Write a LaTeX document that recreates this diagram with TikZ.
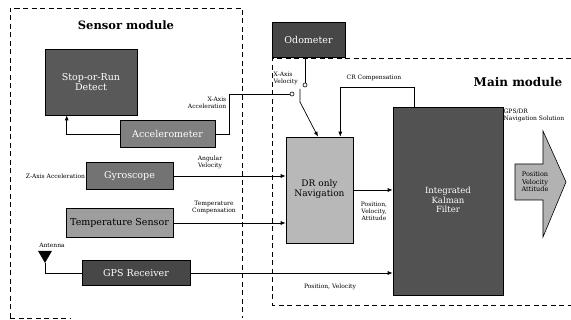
\documentclass[tikz,border=0pt]{standalone}
\usepackage{fontspec}
\setmainfont{DejaVu Serif}
\usetikzlibrary{arrows.meta,shapes.geometric}
\begin{document}
\begin{tikzpicture}[x=1pt,y=-1pt,
  blk/.style={draw=black,line width=0.6pt,minimum width=#1,inner sep=1pt,align=center,font=\fontsize{9.5}{10.5}\selectfont},
  lbl/.style={font=\fontsize{6}{7}\selectfont,inner sep=0.5pt,align=center},
  modbox/.style={dashed,line width=0.9pt,dash pattern=on 5pt off 3.5pt},
  conn/.style={line width=0.7pt},
  arr/.style={line width=0.7pt,-{Latex[length=5pt,width=4pt]}},
  term/.style={circle,draw,fill=white,inner sep=0pt,minimum size=4pt,line width=0.6pt}]
\useasboundingbox (0,0) rectangle (571,320);
% module frames
\draw[modbox] (10,318) -- (10,8) -- (242,8) -- (242,318);
\draw[modbox] (10,318) -- (70,318);
\draw[modbox] (571,58) -- (272,58) -- (272,305) -- (571,305);
\node[font=\bfseries\fontsize{11.5}{13}\selectfont] (sm) at (126,25) {Sensor module};
\node[font=\bfseries\fontsize{12}{14}\selectfont] (mm) at (518,82) {Main module};
% blocks
\node[blk=92pt,minimum height=66pt,fill=black!65,text=white] (stop) at (91,82) {Stop-or-Run\\Detect};
\node[blk=95pt,minimum height=27pt,fill=black!50,text=white] (acc) at (167.5,134) {Accelerometer};
\node[blk=73pt,minimum height=35pt,fill=black!72,text=white] (odo) at (308.5,39.5) {Odometer};
\node[blk=87pt,minimum height=27pt,fill=black!55,text=white] (gyro) at (129.5,176) {Gyroscope};
\node[blk=107pt,minimum height=29pt,fill=black!38] (temp) at (119.5,223) {Temperature Sensor};
\node[blk=108pt,minimum height=25pt,fill=black!72,text=white] (gps) at (136,273) {GPS Receiver};
\node[blk=67pt,minimum height=106pt,fill=black!28] (dr) at (319.5,190) {};
\node[font=\fontsize{9}{10}\selectfont,align=center] (drt) at (319.5,189) {DR only\\Navigation};
\node[blk=110pt,minimum height=188pt,fill=black!68] (kal) at (448,201) {};
\node[font=\fontsize{8.5}{9.5}\selectfont,align=center,text=white] (kalt) at (448,200) {Integrated\\Kalman\\Filter};
% output arrow
\draw[line width=0.6pt,fill=black!30] (515,164) -- (543,164) -- (543,131) -- (566,182) -- (543,237) -- (543,200) -- (515,200) -- cycle;
\node[font=\fontsize{6.5}{7.5}\selectfont,align=center] (outt) at (535,182) {Position\\Velocity\\Attitude};
\node[lbl,anchor=north west,align=left] (gdr) at (503,108) {GPS/DR\\Navigation Solution};
% antenna
\node[isosceles triangle,isosceles triangle apex angle=60,shape border rotate=-90,fill=black,inner sep=0pt,minimum height=12pt,minimum width=12pt] (ant) at (45,255) {};
\node[lbl] (antl) at (52,245) {Antenna};
% switch terminals
\node[term] (c1) at (292,94) {};
\node[term] (c2) at (305,85) {};
\coordinate (sw) at (300,89);
% connectors
\draw[arr] (acc.west) -| ([xshift=22pt]stop.south west);
\draw[conn] (acc.east) -- ++(14,0) |- (c1.west);
\draw[conn] (odo.south -| c2) -- (c2.north);
\draw[arr] (sw) -- ++(0,13) -- ([xshift=-1.5pt]dr.north);
\draw[arr] ([xshift=-34pt]kal.north) -- ++(0,-19) -| ([xshift=-13pt]dr.north east);
\draw[arr] (gyro.east) -- (gyro.east -| dr.west);
\draw[arr] (temp.east) -- (temp.east -| dr.west);
\draw[arr] (dr.east) -- (dr.east -| kal.west);
\draw[arr] (gps.east) -- (gps.east -| kal.west);
\draw[conn] (ant.apex) |- (gps.west);
% labels
\node[lbl,anchor=north east,align=right] (xacc) at (227,96) {X-Axis\\Acceleration};
\node[lbl,anchor=south west,align=left] (xvel) at (273,86) {X-Axis\\Velocity};
\node[lbl] (crc) at (374,78) {CR Compensation};
\node[lbl,anchor=east] (zacc) at (gyro.west) {Z-Axis Acceleration};
\node[lbl] (angv) at (210,162) {Angular\\Velocity};
\node[lbl] (tcomp) at (214,207) {Temperature\\Compensation};
\node[lbl] (pva) at (374,211) {Position,\\Velocity,\\Attitude};
\node[lbl] (pv) at (330,287) {Position, Velocity};
\end{tikzpicture}
\end{document}
